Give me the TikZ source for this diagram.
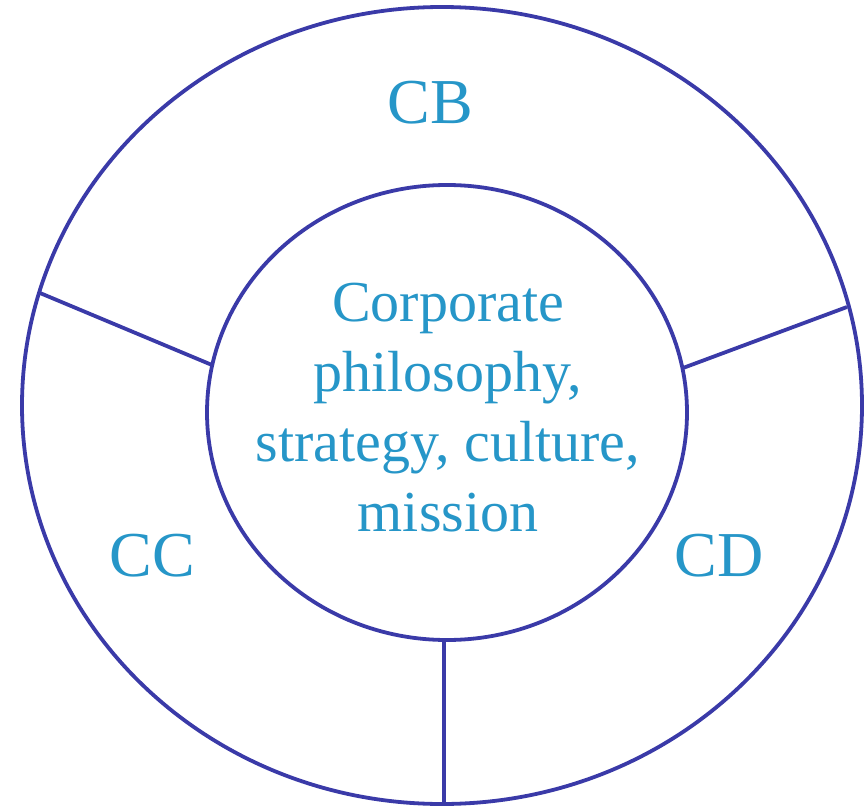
\documentclass[tikz,border=0pt]{standalone}
\usepackage{fontspec}
\setmainfont{Liberation Serif}
\definecolor{ringblue}{RGB}{58,58,168}
\definecolor{labelblue}{RGB}{38,150,200}
\tikzset{
  ring/.style={draw=ringblue, line width=3.8pt},
  divider/.style={draw=ringblue, line width=3.8pt},
  sector/.style={text=labelblue, inner sep=0pt, anchor=base,
                 font=\fontsize{64}{64}\selectfont},
  core/.style={text=labelblue, inner sep=0pt, align=center,
               font=\fontsize{58}{70}\selectfont}
}
\begin{document}
\begin{tikzpicture}[x=1pt, y=-1pt]
  % canvas
  \useasboundingbox (0,0) rectangle (865,808);
  % outer ring and inner disc
  \draw[ring] (442,405.5) ellipse [x radius=420, y radius=398.5];
  \draw[ring] (447,412.5) ellipse [x radius=240, y radius=227.5];
  % ends of the three dividers
  \coordinate (lo) at (40,293);
  \coordinate (li) at (212,365);
  \coordinate (ro) at (847,307);
  \coordinate (ri) at (683,368);
  \coordinate (bi) at (444,640);
  \coordinate (bo) at (444,804);
  \draw[divider] (lo) -- (li);
  \draw[divider] (ro) -- (ri);
  \draw[divider] (bi) -- (bo);
  % labels
  \node[sector] (cb) at (430,123) {CB};
  \node[sector] (cc) at (152,576) {CC};
  \node[sector] (cd) at (719,576) {CD};
  \node[core] (corevalues) at (448,408)
    {Corporate\\philosophy,\\strategy, culture,\\mission};
\end{tikzpicture}
\end{document}
